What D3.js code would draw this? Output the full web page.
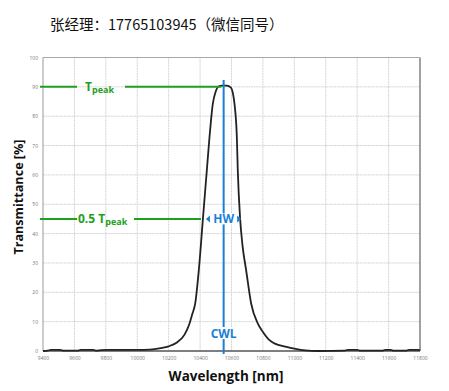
<!DOCTYPE html>
<html>
<head>
<meta charset="utf-8">
<script src="https://cdn.jsdelivr.net/npm/d3@7"></script>
<style>
  body { margin: 0; background: #fff; }
  svg { display: block; }
</style>
</head>
<body>
<svg id="chart" width="449" height="391"></svg>
<script>
// measured transmittance curve (nm, %)
var wavelength = [9400, 9430, 9450, 9510, 9530, 9620, 9640, 9720, 9740, 9770, 9800, 10000, 10080, 10150, 10200, 10250, 10300, 10333, 10350, 10369, 10392, 10418, 10443, 10460, 10481, 10500, 10515, 10540, 10570, 10595, 10610, 10619, 10634, 10640, 10655, 10670, 10693, 10725, 10767, 10800, 10840, 10873, 10950, 11000, 11070, 11150, 11320, 11340, 11400, 11420, 11560, 11580, 11615, 11630, 11710, 11730, 11790, 11800];
var transmittance = [0, 0.1, 0.4, 0.4, 0.1, 0.1, 0.4, 0.4, 0.1, 0.3, 0.4, 0.4, 0.5, 1.0, 1.6, 2.8, 5.5, 9.4, 12.5, 16.2, 27.6, 45, 61.6, 72.9, 84.2, 88.5, 90, 90.4, 90.4, 89.8, 87.5, 84.2, 72.9, 61.6, 45, 36, 27.6, 16.2, 9.4, 6.5, 3.8, 2.6, 1.4, 0.8, 0.2, 0, 0.1, 0.4, 0.4, 0.1, 0.1, 0.4, 0.4, 0.1, 0.1, 0.4, 0.4, 0.2];

var xTicks = [9400, 9600, 9800, 10000, 10200, 10400, 10600, 10800, 11000, 11200, 11400, 11600, 11800];
var yTicks = [0, 10, 20, 30, 40, 50, 60, 70, 80, 90, 100];

var tPeak = 90;
var cwl = 10550;
var hwLeft = 10418, hwRight = 10655;

var svg = d3.select("#chart");
var green = "#1ea01e", blue = "#1a80d6";

var x = d3.scaleLinear().domain([9400, 11800]).range([43, 420]);
var y = d3.scaleLinear().domain([0, 100]).range([351, 57.5]);

// header text
svg.append("text")
  .attr("x", 50).attr("y", 30)
  .style("font-family", "'Noto Sans CJK SC', sans-serif")
  .style("font-size", "14.5px")
  .attr("fill", "#111")
  .text("张经理：17765103945（微信同号）");

// grid
var grid = svg.append("g");
grid.selectAll("line.gx").data(xTicks.slice(1, -1)).enter().append("line")
  .attr("x1", d => x(d)).attr("x2", d => x(d))
  .attr("y1", y(100)).attr("y2", y(0))
  .attr("stroke", "#d6d6d6").attr("stroke-dasharray", "2,0.6");
grid.selectAll("line.gy").data(yTicks.slice(1)).enter().append("line")
  .attr("x1", x(9400)).attr("x2", x(11800))
  .attr("y1", d => y(d)).attr("y2", d => y(d))
  .attr("stroke", "#d6d6d6").attr("stroke-dasharray", "2,0.6");

// frame
svg.append("line").attr("x1", x(9400)).attr("x2", x(9400)).attr("y1", y(100)).attr("y2", y(0))
  .attr("stroke", "#9a9a9a").attr("stroke-width", 1);
svg.append("line").attr("x1", x(11800)).attr("x2", x(11800)).attr("y1", y(100)).attr("y2", y(0))
  .attr("stroke", "#8a8a8a").attr("stroke-width", 1.6);
svg.append("line").attr("x1", x(9400)).attr("x2", x(11800)).attr("y1", y(100)).attr("y2", y(100))
  .attr("stroke", "#a8a8a8").attr("stroke-width", 1);
svg.append("line").attr("x1", x(9400)).attr("x2", x(11800)).attr("y1", y(0)).attr("y2", y(0))
  .attr("stroke", "#555").attr("stroke-width", 1.3);

// tick labels
var yAxis = d3.axisLeft(y).tickValues(yTicks).tickSize(0).tickPadding(5);
var gy = svg.append("g").attr("transform", "translate(" + x(9400) + ",0)").call(yAxis);
gy.select(".domain").remove();
gy.selectAll("text").style("font-family", "'Open Sans', sans-serif").style("font-size", "5px").attr("fill", "#777");

var xAxis = d3.axisBottom(x).tickValues(xTicks).tickSize(0).tickPadding(5).tickFormat(d3.format("d"));
var gx = svg.append("g").attr("transform", "translate(0," + y(0) + ")").call(xAxis);
gx.select(".domain").remove();
gx.selectAll("text").style("font-family", "'Open Sans', sans-serif").style("font-size", "5px").attr("fill", "#777");

// axis titles
svg.append("text")
  .attr("transform", "translate(23,197) rotate(-90)")
  .attr("text-anchor", "middle")
  .style("font-family", "'Open Sans', sans-serif").style("font-weight", "bold").style("font-size", "12.6px")
  .attr("fill", "#111")
  .text("Transmittance [%]");
svg.append("text")
  .attr("x", 226).attr("y", 381)
  .attr("text-anchor", "middle")
  .style("font-family", "'Open Sans', sans-serif").style("font-weight", "bold").style("font-size", "13.5px")
  .attr("fill", "#111")
  .text("Wavelength [nm]");

// curve
var data = wavelength.map((w, i) => [w, transmittance[i]]);
svg.append("path").datum(data)
  .attr("d", d3.line().x(d => x(d[0])).y(d => y(d[1])).curve(d3.curveMonotoneX))
  .attr("fill", "none").attr("stroke", "#222").attr("stroke-width", 1.8);

// green annotations
function greenLabel(yv, x1, x2, tx, prefix, xEnd) {
  svg.append("line").attr("x1", 40).attr("x2", x1).attr("y1", y(yv)).attr("y2", y(yv))
    .attr("stroke", green).attr("stroke-width", 2);
  svg.append("line").attr("x1", x2).attr("x2", xEnd).attr("y1", y(yv)).attr("y2", y(yv))
    .attr("stroke", green).attr("stroke-width", 2);
  var t = svg.append("text").attr("x", tx).attr("y", y(yv) + 4)
    .style("font-family", "'Open Sans', sans-serif").style("font-weight", "bold")
    .style("font-size", "12px").attr("fill", green);
  t.append("tspan").text(prefix + "T");
  t.append("tspan").attr("dy", 2.5).style("font-size", "9px").text("peak");
}
greenLabel(tPeak, 77, 125, 85, "", x(10535));
greenLabel(tPeak / 2, 77, 134, 78, "0.5 ", x(hwLeft) - 2);

// blue CWL line, broken behind the labels
var cx = x(cwl);
svg.append("line").attr("x1", cx).attr("x2", cx).attr("y1", 80).attr("y2", y(0) + 3)
  .attr("stroke", blue).attr("stroke-width", 2);
svg.append("rect").attr("x", cx - 10).attr("y", y(tPeak / 2) - 5.5).attr("width", 20).attr("height", 11).attr("fill", "#fff");
svg.append("rect").attr("x", cx - 14).attr("y", 327).attr("width", 28).attr("height", 12).attr("fill", "#fff");
svg.append("text").attr("x", cx).attr("y", y(tPeak / 2) + 4.5).attr("text-anchor", "middle")
  .style("font-family", "'Open Sans', sans-serif").style("font-weight", "bold").style("font-size", "12px")
  .attr("fill", blue).text("HW");
svg.append("text").attr("x", cx).attr("y", 338).attr("text-anchor", "middle")
  .style("font-family", "'Open Sans', sans-serif").style("font-weight", "bold").style("font-size", "12px")
  .attr("fill", blue).text("CWL");

// HW arrows
var ay = y(tPeak / 2);
var al = x(hwLeft) + 3, ar = x(hwRight) + 1;
svg.append("path").attr("d", "M" + al + "," + ay + "l4,-3.5v7z").attr("fill", blue);
svg.append("path").attr("d", "M" + ar + "," + ay + "l-4,-3.5v7z").attr("fill", blue);
</script>
</body>
</html>
